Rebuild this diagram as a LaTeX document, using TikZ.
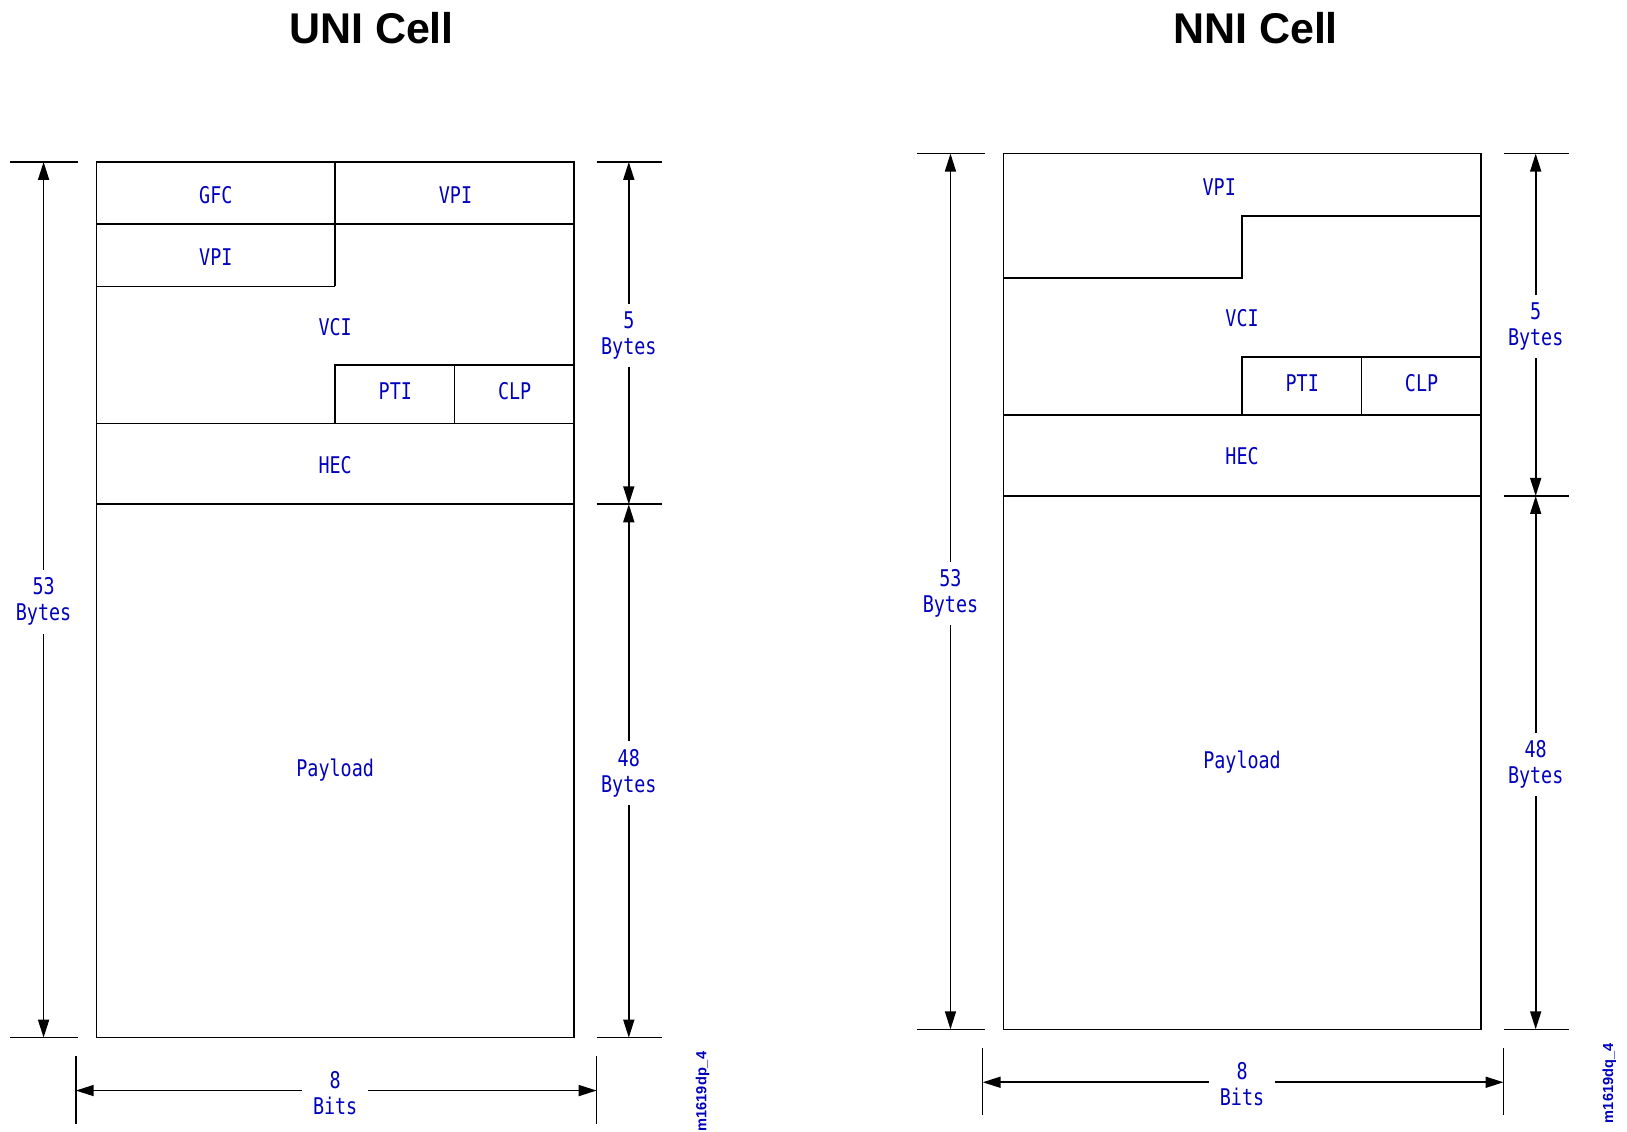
\documentclass[tikz,border=0pt]{standalone}
\usepackage{fontspec}
\usetikzlibrary{arrows.meta}
\newfontfamily\lblfont[FakeStretch=0.8]{DejaVu Sans Mono}
\newfontfamily\ttlfont{Liberation Sans}
\definecolor{lblblue}{RGB}{0,0,190}
\begin{document}
\begin{tikzpicture}[x=0.5188pt,y=-0.5188pt, line width=0.8pt,
  lbl/.style={font=\lblfont\fontsize{11.5}{13}\selectfont, text=lblblue, align=center, inner sep=0pt},
  dimlbl/.style={lbl, inner xsep=5pt, inner ysep=3.5pt},
  ttl/.style={font=\ttlfont\bfseries\fontsize{21.5}{24}\selectfont},
  dimarrow/.style={-{Triangle[length=9pt,width=5.5pt]}},
  tag/.style={font=\ttlfont\bfseries\fontsize{7.3}{8}\selectfont, text=lblblue, rotate=90, inner sep=0pt}]
\useasboundingbox (0,0) rectangle (1568,1090);

\node[ttl] (uttl) at (358,27) {UNI Cell};
\node[ttl] (nttl) at (1210,27) {NNI Cell};

% ---------- UNI cell ----------
\begin{scope}
\draw (93,156) rectangle (553,1000);
\draw (323,156) -- (323,276);
\draw (93,216) -- (553,216);
\draw (93,276) -- (323,276);
\draw (323,408) -- (323,352) -- (553,352);
\draw (438,352) -- (438,408);
\draw (93,408) -- (553,408);
\draw (93,486) -- (553,486);
\node[lbl] (ugfc) at (208,188) {GFC};
\node[lbl] (uvpi1) at (439,188) {VPI};
\node[lbl] (uvpi2) at (208,248) {VPI};
\node[lbl] (uvci) at (323,315) {VCI};
\node[lbl] (upti) at (381,377) {PTI};
\node[lbl] (uclp) at (496,377) {CLP};
\node[lbl] (uhec) at (323,448) {HEC};
\node[lbl] (upay) at (323,742) {Payload};
% left dimension
\draw (10,156) -- (75,156);
\draw (10,1000) -- (75,1000);
\coordinate (uLt) at (42,156);
\coordinate (uLb) at (42,1000);
\node[dimlbl] (u53) at (42,580) {53\\Bytes};
\draw[dimarrow] (u53) -- (uLt);
\draw[dimarrow] (u53) -- (uLb);
% right dimensions
\draw (575,156) -- (638,156);
\draw (575,486) -- (638,486);
\draw (575,1000) -- (638,1000);
\coordinate (uRt) at (606,156);
\coordinate (uRm) at (606,486);
\coordinate (uRb) at (606,1000);
\node[dimlbl] (u5) at (606,323) {5\\Bytes};
\node[dimlbl] (u48) at (606,745) {48\\Bytes};
\draw[dimarrow] (u5) -- (uRt);
\draw[dimarrow] (u5) -- (uRm);
\draw[dimarrow] (u48) -- (uRm);
\draw[dimarrow] (u48) -- (uRb);
% bottom dimension
\draw (73,1018) -- (73,1083);
\draw (575,1018) -- (575,1083);
\coordinate (uBl) at (73,1051);
\coordinate (uBr) at (575,1051);
\node[dimlbl] (u8) at (323,1053) {8\\Bits};
\draw[dimarrow] (u8.west |- uBl) -- (uBl);
\draw[dimarrow] (u8.east |- uBr) -- (uBr);
\node[tag] (utag) at (677,1052) {m1619dp\_4};
\end{scope}

% ---------- NNI cell ----------
\begin{scope}[shift={(874,-8)}]
\draw (93,156) rectangle (553,1000);
\draw (93,276) -- (323,276) -- (323,216) -- (553,216);
\draw (323,408) -- (323,352) -- (553,352);
\draw (438,352) -- (438,408);
\draw (93,408) -- (553,408);
\draw (93,486) -- (553,486);
\node[lbl] (nvpi) at (301,188) {VPI};
\node[lbl] (nvci) at (323,315) {VCI};
\node[lbl] (npti) at (381,377) {PTI};
\node[lbl] (nclp) at (496,377) {CLP};
\node[lbl] (nhec) at (323,448) {HEC};
\node[lbl] (npay) at (323,742) {Payload};
% left dimension
\draw (10,156) -- (75,156);
\draw (10,1000) -- (75,1000);
\coordinate (nLt) at (42,156);
\coordinate (nLb) at (42,1000);
\node[dimlbl] (n53) at (42,580) {53\\Bytes};
\draw[dimarrow] (n53) -- (nLt);
\draw[dimarrow] (n53) -- (nLb);
% right dimensions
\draw (575,156) -- (638,156);
\draw (575,486) -- (638,486);
\draw (575,1000) -- (638,1000);
\coordinate (nRt) at (606,156);
\coordinate (nRm) at (606,486);
\coordinate (nRb) at (606,1000);
\node[dimlbl] (n5) at (606,323) {5\\Bytes};
\node[dimlbl] (n48) at (606,745) {48\\Bytes};
\draw[dimarrow] (n5) -- (nRt);
\draw[dimarrow] (n5) -- (nRm);
\draw[dimarrow] (n48) -- (nRm);
\draw[dimarrow] (n48) -- (nRb);
% bottom dimension
\draw (73,1018) -- (73,1083);
\draw (575,1018) -- (575,1083);
\coordinate (nBl) at (73,1051);
\coordinate (nBr) at (575,1051);
\node[dimlbl] (n8) at (323,1053) {8\\Bits};
\draw[dimarrow] (n8.west |- nBl) -- (nBl);
\draw[dimarrow] (n8.east |- nBr) -- (nBr);
\node[tag] (ntag) at (677,1052) {m1619dq\_4};
\end{scope}
\end{tikzpicture}
\end{document}
